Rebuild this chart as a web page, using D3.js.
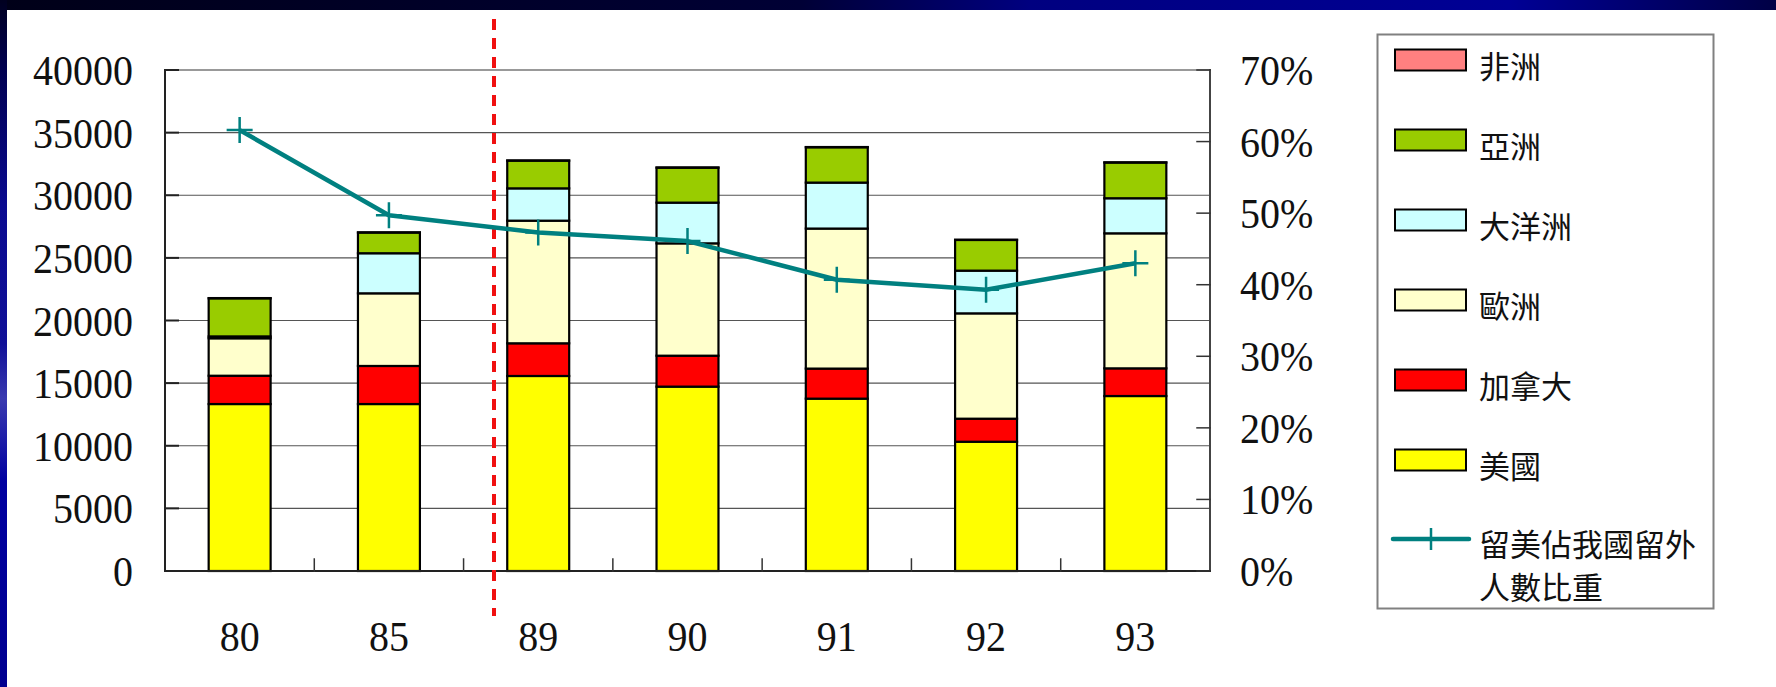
<!DOCTYPE html>
<html>
<head>
<meta charset="utf-8">
<script src="https://cdn.jsdelivr.net/npm/d3@7"></script>
<style>
  body { margin: 0; background: #fff; }
  svg { display: block; }
</style>
</head>
<body>
<script>
// years (ROC calendar)
const years = ["80", "85", "89", "90", "91", "92", "93"];

// students abroad by destination
const usa     = [13330, 13330, 15570, 14720, 13760, 10320, 13970];
const canada  = [ 2260,  3040,  2610,  2470,  2400,  1840,  2210];
const europe  = [ 2990,  5800,  9790,  8970, 11180,  8410, 10780];
const oceania = [  150,  3200,  2580,  3250,  3670,  3410,  2800];
const asia    = [ 3040,  1650,  2210,  2790,  2820,  2450,  2850];
const africa  = [   20,    20,    20,    20,    20,    20,    20];

// share of US among all students abroad
const usShare = [0.616, 0.497, 0.473, 0.461, 0.407, 0.393, 0.430];

const seriesNames  = ["美國", "加拿大", "歐洲", "大洋洲", "亞洲", "非洲"];
const seriesColors = ["#FFFF00", "#FF0000", "#FFFFCC", "#CCFFFF", "#99CC00", "#FF8080"];
const lineName = ["留美佔我國留外", "人數比重"];

const leftTicks  = [0, 5000, 10000, 15000, 20000, 25000, 30000, 35000, 40000];
const rightTicks = [0, 0.1, 0.2, 0.3, 0.4, 0.5, 0.6, 0.7];

const W = 1776, H = 687;
const plot = {left: 165, right: 1210, top: 70, bottom: 571};

const svg = d3.select("body").append("svg")
    .attr("width", W)
    .attr("height", H);

// slide background
const defs = svg.append("defs");
const topGrad = defs.append("linearGradient").attr("id", "topGrad");
[["0%", "#000018"], ["45%", "#000035"], ["58%", "#000080"], ["85%", "#000095"], ["100%", "#000045"]]
    .forEach(s => topGrad.append("stop").attr("offset", s[0]).attr("stop-color", s[1]));
const leftGrad = defs.append("linearGradient").attr("id", "leftGrad")
    .attr("x1", "0%").attr("x2", "0%").attr("y1", "0%").attr("y2", "100%");
[["0%", "#000020"], ["10%", "#000050"], ["30%", "#0a0a90"], ["50%", "#101098"], ["58%", "#3a3ab0"], ["70%", "#0000a0"], ["100%", "#000090"]]
    .forEach(s => leftGrad.append("stop").attr("offset", s[0]).attr("stop-color", s[1]));

svg.append("rect").attr("width", W).attr("height", H).attr("fill", "#fff");
svg.append("rect").attr("width", W).attr("height", 10).attr("fill", "url(#topGrad)");
svg.append("rect").attr("width", 7).attr("height", H).attr("fill", "url(#leftGrad)");

const x = d3.scaleBand()
    .domain(years)
    .range([plot.left, plot.right])
    .paddingInner(0.585)
    .paddingOuter(0.2925);

const y = d3.scaleLinear().domain([0, 40000]).range([plot.bottom, plot.top]);
const y2 = d3.scaleLinear().domain([0, 0.7]).range([plot.bottom, plot.top]);

// gridlines
svg.append("g")
    .selectAll("line")
    .data(leftTicks.slice(1))
    .enter().append("line")
    .attr("x1", plot.left).attr("x2", plot.right)
    .attr("y1", d => y(d)).attr("y2", d => y(d))
    .attr("stroke", d => d === 40000 ? "#999" : "#555")
    .attr("stroke-width", d => d === 40000 ? 2 : 1.2);

// stacked bars
const table = years.map((yr, i) => ({
    year: yr,
    "美國": usa[i], "加拿大": canada[i], "歐洲": europe[i],
    "大洋洲": oceania[i], "亞洲": asia[i], "非洲": africa[i]
}));
const stacked = d3.stack().keys(seriesNames)(table);

svg.append("g")
    .selectAll("g")
    .data(stacked)
    .enter().append("g")
    .attr("fill", (d, i) => seriesColors[i])
    .selectAll("rect")
    .data(d => d)
    .enter().append("rect")
    .attr("x", d => x(d.data.year))
    .attr("width", x.bandwidth())
    .attr("y", d => y(d[1]))
    .attr("height", d => y(d[0]) - y(d[1]))
    .attr("stroke", "#000")
    .attr("stroke-width", 2.2);

// axes lines
const axes = svg.append("g").attr("stroke-linecap", "square");
axes.append("line").attr("x1", plot.left).attr("x2", plot.left)
    .attr("y1", plot.top).attr("y2", plot.bottom).attr("stroke", "#222").attr("stroke-width", 2);
axes.append("line").attr("x1", plot.right).attr("x2", plot.right)
    .attr("y1", plot.top).attr("y2", plot.bottom).attr("stroke", "#444").attr("stroke-width", 2);
axes.append("line").attr("x1", plot.left).attr("x2", plot.right)
    .attr("y1", plot.bottom).attr("y2", plot.bottom).attr("stroke", "#222").attr("stroke-width", 2);

// inward tick marks
axes.selectAll(".lt").data(leftTicks).enter().append("line")
    .attr("x1", plot.left).attr("x2", plot.left + 13)
    .attr("y1", d => y(d)).attr("y2", d => y(d))
    .attr("stroke", "#222").attr("stroke-width", 2);
axes.selectAll(".rt").data(rightTicks).enter().append("line")
    .attr("x1", plot.right - 13).attr("x2", plot.right)
    .attr("y1", d => y2(d)).attr("y2", d => y2(d))
    .attr("stroke", "#333").attr("stroke-width", 1.5);
axes.selectAll(".bt").data(years.slice(1)).enter().append("line")
    .attr("x1", d => x(d) - x.step() * x.paddingInner() / 2)
    .attr("x2", d => x(d) - x.step() * x.paddingInner() / 2)
    .attr("y1", plot.bottom).attr("y2", plot.bottom - 12)
    .attr("stroke", "#333").attr("stroke-width", 1.5);

// tick labels (serif, slightly tall)
const serif = "'Liberation Serif', 'Times New Roman', serif";
function label(g, px, py, str, anchor) {
    g.append("text")
        .attr("transform", `translate(${px},${py}) scale(1,1.08)`)
        .attr("text-anchor", anchor)
        .attr("font-family", serif)
        .attr("font-size", 40)
        .attr("fill", "#111")
        .text(str);
}
const labels = svg.append("g");
leftTicks.forEach(t => label(labels, 133, y(t) + 15, String(t), "end"));
rightTicks.forEach(t => label(labels, 1240, y2(t) + 15, d3.format(".0%")(t), "start"));
years.forEach(yr => label(labels, x(yr) + x.bandwidth() / 2, 651, yr, "middle"));

// red dashed divider between 85 and 89
svg.append("line")
    .attr("x1", 494).attr("x2", 494)
    .attr("y1", 19).attr("y2", 616)
    .attr("stroke", "#F01010")
    .attr("stroke-width", 4)
    .attr("stroke-dasharray", "11,8");

// share line
const cx = (d, i) => x(years[i]) + x.bandwidth() / 2;
const line = d3.line().x(cx).y(d => y2(d));
svg.append("path")
    .datum(usShare)
    .attr("d", line)
    .attr("fill", "none")
    .attr("stroke", "#008080")
    .attr("stroke-width", 4.5)
    .attr("stroke-linejoin", "round");

const crossSize = 13;
svg.append("g")
    .selectAll("path")
    .data(usShare)
    .enter().append("path")
    .attr("d", (d, i) => {
        const px = cx(d, i), py = y2(d);
        return `M${px - crossSize},${py}H${px + crossSize}M${px},${py - crossSize}V${py + crossSize}`;
    })
    .attr("stroke", "#008080")
    .attr("stroke-width", 2.5);

// legend
const legend = svg.append("g");
legend.append("rect")
    .attr("x", 1377.5).attr("y", 34.5)
    .attr("width", 336).attr("height", 574)
    .attr("fill", "#fff")
    .attr("stroke", "#808080")
    .attr("stroke-width", 2);

const cjk = "'Noto Sans CJK TC', 'Noto Sans CJK SC', sans-serif";
const legendOrder = seriesNames.slice().reverse();
legendOrder.forEach((name, i) => {
    const cy = 60 + 80 * i;
    const col = seriesColors[seriesNames.indexOf(name)];
    legend.append("rect")
        .attr("x", 1395).attr("y", cy - 10.5)
        .attr("width", 71).attr("height", 21)
        .attr("fill", col)
        .attr("stroke", "#000")
        .attr("stroke-width", 2);
    legend.append("text")
        .attr("x", 1479).attr("y", cy + 4)
        .attr("dominant-baseline", "central")
        .attr("font-family", cjk)
        .attr("font-size", 31)
        .attr("fill", "#111")
        .text(name);
});

const ly = 539;
legend.append("line")
    .attr("x1", 1393).attr("x2", 1469)
    .attr("y1", ly).attr("y2", ly)
    .attr("stroke", "#008080").attr("stroke-width", 4.5)
    .attr("stroke-linecap", "round");
legend.append("line")
    .attr("x1", 1431).attr("x2", 1431)
    .attr("y1", ly - 11).attr("y2", ly + 11)
    .attr("stroke", "#008080").attr("stroke-width", 2.5);
lineName.forEach((t, i) => {
    legend.append("text")
        .attr("x", 1479).attr("y", 542.5 + i * 42.5)
        .attr("dominant-baseline", "central")
        .attr("font-family", cjk)
        .attr("font-size", 31)
        .attr("fill", "#111")
        .text(t);
});
</script>
</body>
</html>
